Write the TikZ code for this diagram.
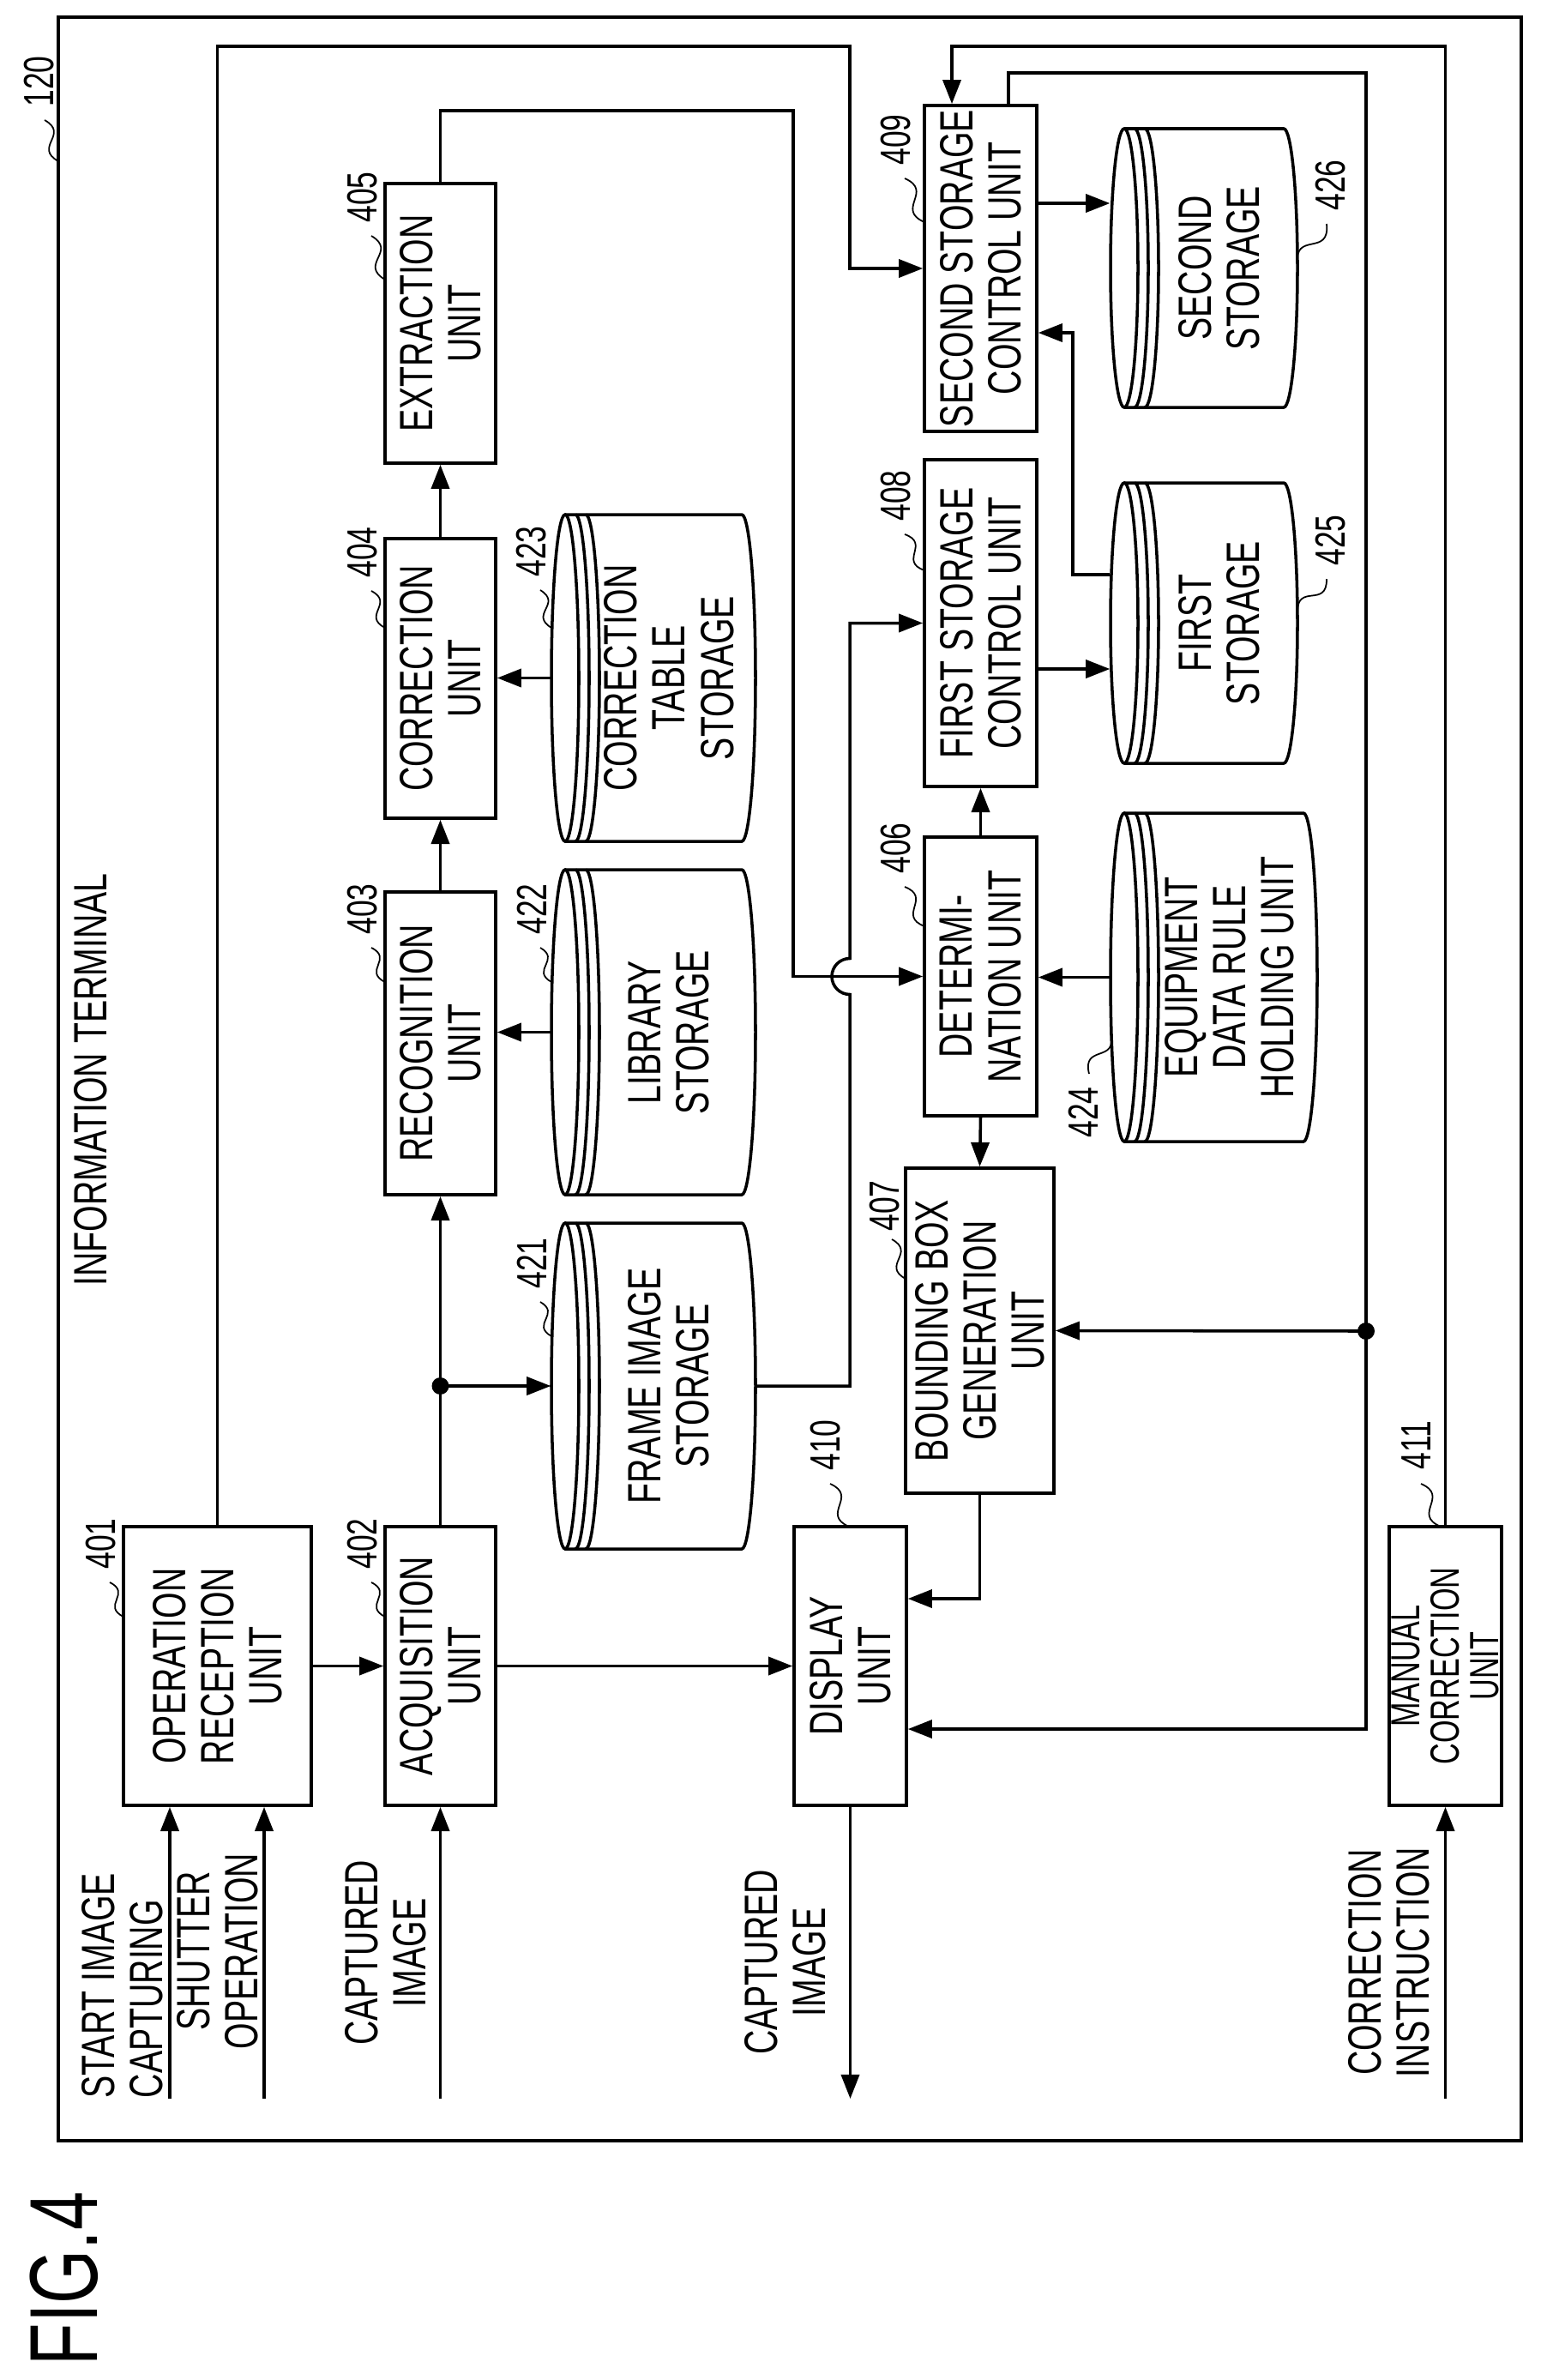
\documentclass[tikz,border=0pt]{standalone}
\usepackage{fontspec}
\setmainfont{Liberation Sans}[FakeStretch=0.72]
\usetikzlibrary{arrows.meta,calc}
\newcommand\boxfont{\fontsize{15.5}{16}\selectfont}
\newcommand\smallboxfont{\fontsize{13.5}{13}\selectfont}
\newcommand\numfont{\fontsize{14}{14}\selectfont}
\newcommand\dbcyl[6]{%
 \pgfmathsetmacro\cL{-#5}\pgfmathsetmacro\cR{-#4}\pgfmathsetmacro\cT{-#2}\pgfmathsetmacro\cB{-#3}%
 \pgfmathsetmacro\cX{(\cL+\cR)/2}\pgfmathsetmacro\cY{(\cT+\cB)/2}\pgfmathsetmacro\crx{(\cR-\cL)/2}%
 \pgfmathsetmacro\cw{(\cR-\cL)*0.01}\pgfmathsetmacro\ch{(\cT-\cB)*0.01}%
 \draw[ln] (\cL,\cT-16) -- (\cL,\cB+16) arc[start angle=180,end angle=360,x radius=\crx,y radius=16] -- (\cR,\cT-16);
 \draw[ln] (\cX,\cT-16) ellipse[x radius=\crx,y radius=16];
 \draw[ln] (\cL,\cT-28) arc[start angle=180,end angle=360,x radius=\crx,y radius=16];
 \draw[ln] (\cL,\cT-40) arc[start angle=180,end angle=360,x radius=\crx,y radius=16];
 \node[inner sep=0, minimum width=\cw cm, minimum height=\ch cm] (#1) at (\cX,\cY) {};
 \node[txt] at (\cX,\cY-18) {#6};}
\newcommand\ldr[4]{%
 \coordinate (la) at (-#2,-#1); \coordinate (lb) at (-#4,-#3);
 \coordinate (lm) at ($(la)!0.5!(lb)$);
 \draw[lead] (la) .. controls ($(lm)!0.9!90:(lb)$) and ($(lm)!0.9!-90:(lb)$) .. (lb);}
\begin{document}
\begin{tikzpicture}
\begin{scope}[rotate=90, transform shape, x=0.01cm, y=0.01cm,
  ln/.style={line width=1pt},
  arr/.style={line width=1pt, -{Triangle[length=8pt,width=6pt]}},
  lead/.style={line width=0.5pt},
  box/.style={draw, line width=1pt, align=center, font=\boxfont, inner sep=0},
  txt/.style={align=center, font=\boxfont, inner sep=0},
  num/.style={font=\numfont, inner sep=0}]
\useasboundingbox (-2775,-1796) rectangle (0,0);
% frame
\draw[line width=1.3pt] (-2496,-68) rectangle (-20,-1774);
\node[txt] at (-1259,-106) {INFORMATION TERMINAL};
\node[font=\fontsize{32}{32}\selectfont, inner sep=0] at (-2657,-75) {FIG.4};
% boxes
\node[box, minimum width=3.25cm, minimum height=2.19cm] (n401) at (-1942.5,-253.5) {OPERATION\\RECEPTION\\UNIT};
\node[box, minimum width=3.25cm, minimum height=1.29cm] (n402) at (-1942.5,-513.5) {ACQUISITION\\UNIT};
\node[box, minimum width=3.53cm, minimum height=1.29cm] (n403) at (-1216.5,-513.5) {RECOGNITION\\UNIT};
\node[box, minimum width=3.26cm, minimum height=1.29cm] (n404) at (-791,-513.5) {CORRECTION\\UNIT};
\node[box, minimum width=3.26cm, minimum height=1.29cm] (n405) at (-377,-513.5) {EXTRACTION\\UNIT};
\node[box, minimum width=3.25cm, minimum height=1.31cm] (n406) at (-1138.5,-1143.5) {DETERMI-\\NATION UNIT};
\node[box, minimum width=3.79cm, minimum height=1.73cm] (n407) at (-1551.5,-1142.5) {BOUNDING BOX\\GENERATION\\UNIT};
\node[box, minimum width=3.81cm, minimum height=1.31cm] (n408) at (-726.5,-1143.5) {FIRST STORAGE\\CONTROL UNIT};
\node[box, minimum width=3.80cm, minimum height=1.31cm] (n409) at (-313,-1143.5) {SECOND STORAGE\\CONTROL UNIT};
\node[box, minimum width=3.25cm, minimum height=1.31cm] (n410) at (-1942.5,-991.5) {DISPLAY\\UNIT};
\node[box, font=\smallboxfont, minimum width=3.25cm, minimum height=1.31cm] (n411) at (-1942.5,-1685.5) {MANUAL\\CORRECTION\\UNIT};
% storages
\dbcyl{n421}{643}{881}{1426}{1806}{FRAME IMAGE\\STORAGE}
\dbcyl{n422}{643}{881}{1014}{1393}{LIBRARY\\STORAGE}
\dbcyl{n423}{643}{881}{600}{981}{CORRECTION\\TABLE\\STORAGE}
\dbcyl{n424}{1295}{1536}{948}{1331}{EQUIPMENT\\DATA RULE\\HOLDING UNIT}
\dbcyl{n425}{1295}{1513}{563}{890}{FIRST\\STORAGE}
\dbcyl{n426}{1295}{1513}{150}{475}{SECOND\\STORAGE}
% connectors
\draw[arr] (n401.east) -- (-54,-253.5) -- (-54,-991) -- (-313,-991) -- (n409.north);
\draw[arr] (n411.east) -- (-54,-1685.5) -- (-54,-1110) -- ($(n409.east)+(0,33.5)$);
\coordinate (dotB) at (-1552,-1593);
\draw[ln] ($(n409.east)+(0,-32.5)$) -- (-85,-1176) -- (-85,-1593) -- (dotB);
\draw[arr] (dotB) -- (n407.south);
\draw[arr] (dotB) -- (-2016,-1593) -- ($(n410.south)+(-73.5,0)$);
\fill (dotB) circle[radius=10];
\draw[arr] (n405.east) -- (-129,-513.5) -- (-129,-925) -- (-1138.5,-925) -- (n406.north);
\draw[arr] (n421.south) -- (-1616,-991) -- (-1159.5,-991) arc[start angle=180,end angle=0,radius=21] -- (-726.5,-991) -- (n408.north);
\draw[arr] (n402.east) -- (n403.west);
\coordinate (dotA) at (-1616,-513.5);
\draw[arr] (dotA) -- (n421.north);
\fill (dotA) circle[radius=10];
\draw[arr] (n403.east) -- (n404.west);
\draw[arr] (n404.east) -- (n405.west);
\draw[arr] (n422.north) -- (n422.north |- n403.south);
\draw[arr] (n423.north) -- (n423.north |- n404.south);
\draw[arr] (n401.south) -- (n402.north);
\draw[arr] (n402.south) -- (n410.north);
\draw[arr] (n407.west) -- (-1864,-1142.5) -- ($(n410.south)+(78.5,0)$);
\draw[arr] (n406.east) -- (n408.west);
\draw[arr] (n406.west) -- (n407.east);
\draw[arr] (n424.north) -- (n424.north |- n406.south);
\draw[arr] ($(n408.south)+(-53.5,0)$) -- ($(n425.north)+(-53.5,0)$);
\draw[arr] ($(n425.north)+(56.5,0)$) -- (-670,-1251) -- (-388,-1251) -- ($(n409.south)+(-75,0)$);
\draw[arr] ($(n409.south)+(76,0)$) -- ($(n426.north)+(75.5,0)$);
% inputs / outputs
\coordinate (i1) at (-2447,-198);
\coordinate (i2) at (-2447,-308);
\coordinate (i3) at (-2447,-513.5);
\coordinate (i4) at (-2447,-1685.5);
\coordinate (o1) at (-2447,-991.5);
\draw[arr] (i1) -- ($(n401.west)+(0,55.5)$);
\draw[arr] (i2) -- ($(n401.west)+(0,-54.5)$);
\draw[arr] (i3) -- (n402.west);
\draw[arr] (i4) -- (n411.west);
\draw[arr] (n410.west) -- (o1);
\node[txt, align=left, anchor=west] at (-2447,-143) {START IMAGE\\CAPTURING};
\node[txt] at (-2275,-254) {SHUTTER\\OPERATION};
\node[txt] at (-2277,-450) {CAPTURED\\IMAGE};
\node[txt] at (-2288,-916) {CAPTURED\\IMAGE};
\node[txt] at (-2288,-1620) {CORRECTION\\INSTRUCTION};
% reference numerals
\node[num] at (-95,-46) {120}; \ldr{52}{140}{68}{188}
\node[num] at (-1800,-118) {401}; \ldr{128}{1845}{144}{1885}
\node[num] at (-1800,-423) {402}; \ldr{433}{1845}{449}{1885}
\node[num] at (-1060,-423) {403}; \ldr{433}{1105}{449}{1145}
\node[num] at (-644,-423) {404}; \ldr{433}{689}{449}{732}
\node[num] at (-230,-423) {405}; \ldr{433}{275}{449}{326}
\node[num] at (-1473,-620) {421}; \ldr{630}{1518}{643}{1558}
\node[num] at (-1060,-620) {422}; \ldr{630}{1105}{643}{1145}
\node[num] at (-643,-620) {423}; \ldr{630}{688}{643}{732}
\node[num] at (-989,-1045) {406}; \ldr{1055}{1034}{1078}{1080}
\node[num] at (-578,-1045) {408}; \ldr{1055}{623}{1078}{665}
\node[num] at (-163,-1045) {409}; \ldr{1055}{208}{1078}{259}
\node[num] at (-1406,-1032) {407}; \ldr{1040}{1445}{1056}{1491}
\node[num] at (-1685,-963) {410}; \ldr{968}{1730}{990}{1780}
\node[num] at (-1685,-1652) {411}; \ldr{1657}{1730}{1680}{1780}
\node[num] at (-1297,-1263) {424}; \ldr{1270}{1252}{1295}{1205}
\node[num] at (-630,-1552) {425}; \ldr{1547}{675}{1513}{714}
\node[num] at (-216,-1552) {426}; \ldr{1547}{261}{1513}{308}
\end{scope}
\end{tikzpicture}
\end{document}
